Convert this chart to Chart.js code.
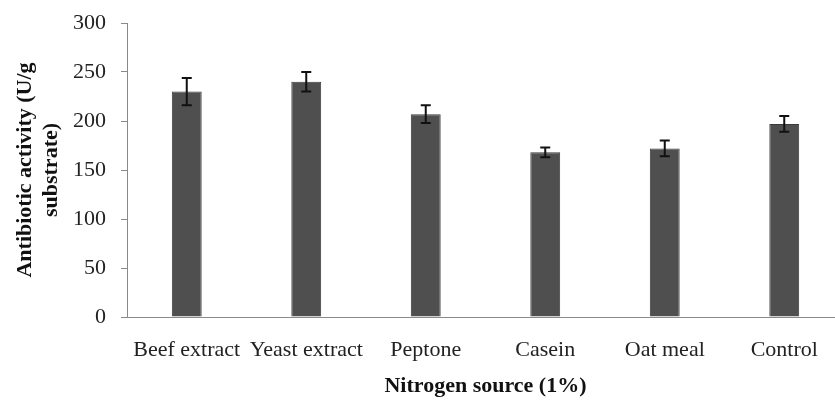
<!DOCTYPE html>
<html>
<head>
<meta charset="utf-8">
<script src="https://cdn.jsdelivr.net/npm/chart.js@4.4.1/dist/chart.umd.min.js"></script>
<style>
  html, body { margin: 0; padding: 0; background: #fff; overflow: hidden; }
  #wrap { width: 845px; height: 402px; }
</style>
</head>
<body>
<div id="wrap"><canvas id="myChart"></canvas></div>
<script>
const labels = ['Beef extract', 'Yeast extract', 'Peptone', 'Casein', 'Oat meal', 'Control'];
const values = [230, 240, 207, 168, 172, 197];
const errors = [14, 10, 9, 5, 8, 8];
const yTicks = [0, 50, 100, 150, 200, 250, 300];

const serif = '"Liberation Serif", "Times New Roman", serif';

const errorBars = {
  id: 'errorBars',
  afterDatasetsDraw(chart) {
    const ctx = chart.ctx;
    const y = chart.scales.y;
    const meta = chart.getDatasetMeta(0);
    ctx.save();
    ctx.strokeStyle = '#111';
    ctx.lineWidth = 2;
    meta.data.forEach((bar, i) => {
      const top = y.getPixelForValue(values[i] + errors[i]);
      const bot = y.getPixelForValue(values[i] - errors[i]);
      const x = bar.x;
      ctx.beginPath();
      ctx.moveTo(x, top); ctx.lineTo(x, bot);
      ctx.moveTo(x - 5, top); ctx.lineTo(x + 5, top);
      ctx.moveTo(x - 5, bot); ctx.lineTo(x + 5, bot);
      ctx.stroke();
    });
    ctx.restore();
  }
};

const data = {
  labels: labels,
  datasets: [{
    label: '',
    data: values,
    backgroundColor: '#4f4f4f',
    borderColor: '#3a3a3a',
    borderWidth: 1,
    barPercentage: 0.25,
    categoryPercentage: 1
  }]
};

const config = {
  type: 'bar',
  data: data,
  plugins: [errorBars],
  options: {
    responsive: true,
    maintainAspectRatio: false,
    animation: false,
    layout: { padding: { top: 23, right: 1, left: 0, bottom: 0 } },
    plugins: { legend: { display: false }, tooltip: { enabled: false } },
    scales: {
      x: {
        grid: { display: false, drawTicks: false },
        border: { color: '#8a8a8a', width: 1 },
        ticks: {
          color: '#222', font: { family: serif, size: 22 },
          maxRotation: 0, autoSkip: false, padding: 20
        },
        title: {
          display: true, text: 'Nitrogen source (1%)', color: '#111',
          font: { family: serif, size: 22, weight: 'bold' }, padding: { top: 10, bottom: 2 }
        },
        afterFit(scale) { scale.height = 85; }
      },
      y: {
        min: 0, max: 300,
        afterBuildTicks(scale) { scale.ticks = yTicks.map(v => ({ value: v })); },
        grid: { drawOnChartArea: false, tickLength: 6, color: '#8a8a8a' },
        border: { color: '#8a8a8a', width: 1 },
        ticks: {
          color: '#222', font: { family: serif, size: 22 }, padding: 15
        },
        title: {
          display: true, text: ['Antibiotic activity (U/g', 'substrate)'], color: '#111',
          font: { family: serif, size: 22, weight: 'bold' }, padding: { top: 12, bottom: 4 }
        },
        afterFit(scale) {
          scale.width = 127;
          scale.paddingTop = 0;
          scale.paddingBottom = 0;
        }
      }
    }
  }
};

if (document.getElementById('myChart')) {
  const myChart = new Chart(
    document.getElementById('myChart').getContext('2d'),
    config
  );
}
</script>
</body>
</html>
